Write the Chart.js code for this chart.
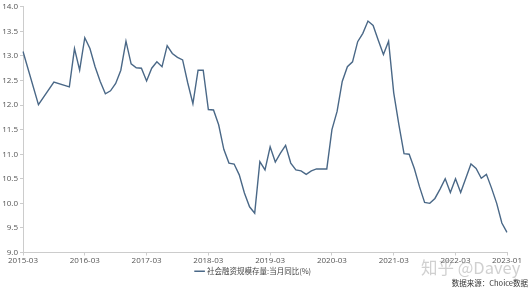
<!DOCTYPE html>
<html>
<head>
<meta charset="utf-8">
<script src="https://cdn.jsdelivr.net/npm/chart.js@4"></script>
<style>
  html, body { margin: 0; padding: 0; background: #fff; overflow: hidden; }
  #wrap { position: relative; width: 530px; height: 291px; }
  #watermark {
    position: absolute; left: 421px; top: 255px;
    font: 16.5px "Noto Sans CJK SC", sans-serif;
    color: rgba(170, 170, 170, 0.55); white-space: nowrap;
  }
  #source {
    position: absolute; right: 2px; top: 277px;
    font: 7.5px "Noto Sans CJK SC", sans-serif;
    color: #333; white-space: nowrap;
  }
</style>
</head>
<body>
<div id="wrap">
  <canvas id="chart" width="530" height="291"></canvas>
  <div id="watermark">知乎 @Davey</div>
  <div id="source">数据来源：Choice数据</div>
</div>
<script>
// monthly, 2015-03 .. 2023-01 (2015 is only quarterly)
const months = [];
for (let y = 2015; y <= 2023; y++) {
    for (let m = 1; m <= 12; m++) {
        if ((y === 2015 && m < 3) || (y === 2023 && m > 1)) continue;
        months.push(y + '-' + String(m).padStart(2, '0'));
    }
}

const seriesName = '社会融资规模存量:当月同比(%)';

const tsfGrowth = [
    13.09, null, null, 12.01, null, null, 12.47, null, null, 12.37,   // 2015-03 .. 2015-12
    13.15, 12.71, 13.37, 13.15, 12.78, 12.48, 12.23, 12.29, 12.44, 12.71, 13.30, 12.84,   // 2016
    12.76, 12.75, 12.49, 12.75, 12.88, 12.78, 13.21, 13.05, 12.97, 12.92, 12.45, 12.03,   // 2017
    12.71, 12.71, 11.91, 11.90, 11.60, 11.10, 10.82, 10.80, 10.58, 10.21, 9.93, 9.80,     // 2018
    10.85, 10.68, 11.15, 10.84, 11.02, 11.18, 10.82, 10.68, 10.66, 10.59, 10.66, 10.70,   // 2019
    10.70, 10.70, 11.50, 11.87, 12.48, 12.78, 12.88, 13.29, 13.46, 13.71, 13.62, 13.32,   // 2020
    13.03, 13.30, 12.25, 11.60, 11.01, 11.00, 10.71, 10.34, 10.02, 10.00, 10.10, 10.29,   // 2021
    10.50, 10.22, 10.50, 10.22, 10.51, 10.80, 10.71, 10.51, 10.59, 10.31, 10.00, 9.60,    // 2022
    9.41                                                                                 // 2023-01
];

const yTicks = [9.0, 9.5, 10.0, 10.5, 11.0, 11.5, 12.0, 12.5, 13.0, 13.5, 14.0];

const lastIdx = months.length - 1;
const showTick = (i) => i % 12 === 0 || i === lastIdx;

const ctx = document.getElementById('chart').getContext('2d');
new Chart(ctx, {
    type: 'line',
    data: {
        labels: months,
        datasets: [{
            label: seriesName,
            data: tsfGrowth,
            borderColor: '#4a6887',
            backgroundColor: '#4a6887',
            borderWidth: 1.4,
            pointRadius: 0,
            tension: 0,
            spanGaps: true,
        }],
    },
    options: {
        responsive: false,
        animation: false,
        layout: { padding: { top: 5, right: 23, bottom: 6, left: 0 } },
        plugins: {
            legend: {
                position: 'bottom',
                labels: {
                    usePointStyle: true,
                    pointStyle: 'line',
                    boxWidth: 8,
                    padding: 2,
                    color: '#444',
                    font: { family: '"Noto Sans CJK SC", sans-serif', size: 7.5 },
                },
            },
            tooltip: { enabled: false },
        },
        scales: {
            x: {
                ticks: {
                    autoSkip: false,
                    maxRotation: 0,
                    color: '#555',
                    padding: 0,
                    font: { family: '"Open Sans", sans-serif', size: 8 },
                    callback: (v, i) => showTick(i) ? months[i] : '',
                },
                grid: {
                    drawOnChartArea: false,
                    tickLength: 3,
                    color: (c) => showTick(c.index) ? '#ccc' : 'rgba(0,0,0,0)',
                },
                border: { color: '#ccc' },
                afterFit: (s) => { s.height = 13; },
            },
            y: {
                min: 9,
                max: 14,
                afterBuildTicks: (s) => { s.ticks = yTicks.map(v => ({ value: v })); },
                ticks: {
                    color: '#555',
                    padding: 2,
                    font: { family: '"Open Sans", sans-serif', size: 8 },
                    callback: (v) => Number(v).toFixed(1),
                },
                grid: { drawOnChartArea: false, tickLength: 3, color: '#ccc' },
                border: { color: '#ccc' },
                afterFit: (s) => { s.width = 23; },
            },
        },
    },
});
</script>
</body>
</html>
